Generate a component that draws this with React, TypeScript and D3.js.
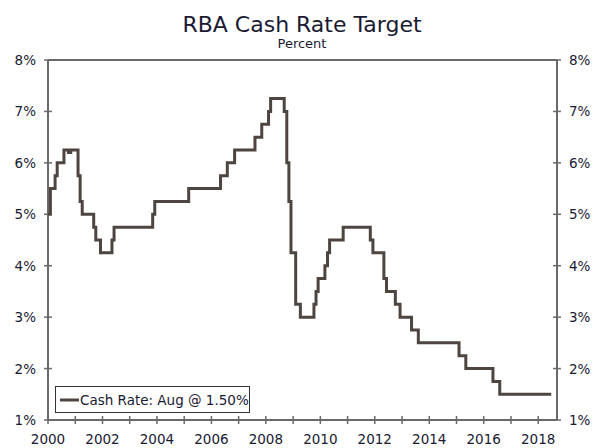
import React from "react";
import * as d3 from "d3";

// Cash rate changes: [date, rate %]
const changeDates: string[] = [
  "2000-01-01", "2000-02-02", "2000-04-05", "2000-05-03", "2000-08-02", "2000-10-01", "2000-11-01",
  "2001-02-07", "2001-03-07", "2001-04-04", "2001-09-05", "2001-10-03", "2001-12-05",
  "2002-05-08", "2002-06-05", "2003-11-05", "2003-12-03", "2005-03-02",
  "2006-05-03", "2006-08-02", "2006-11-08", "2007-08-08", "2007-11-07",
  "2008-02-06", "2008-03-05", "2008-09-03", "2008-10-08", "2008-11-05", "2008-12-03",
  "2009-02-04", "2009-04-08", "2009-10-07", "2009-11-04", "2009-12-02",
  "2010-03-03", "2010-04-07", "2010-05-05", "2010-11-03",
  "2011-11-02", "2011-12-07", "2012-05-02", "2012-06-06", "2012-10-03", "2012-12-05",
  "2013-05-08", "2013-08-07", "2015-02-04", "2015-05-06", "2016-05-04", "2016-08-03",
  "2018-06-25",
];
const rateValues: number[] = [
  5.0, 5.5, 5.75, 6.0, 6.25, 6.2, 6.25,
  5.75, 5.25, 5.0, 4.75, 4.5, 4.25,
  4.5, 4.75, 5.0, 5.25, 5.5,
  5.75, 6.0, 6.25, 6.5, 6.75,
  7.0, 7.25, 7.0, 6.0, 5.25, 4.25,
  3.25, 3.0, 3.25, 3.5, 3.75,
  4.0, 4.25, 4.5, 4.75,
  4.5, 4.25, 3.75, 3.5, 3.25, 3.0,
  2.75, 2.5, 2.25, 2.0, 1.75, 1.5,
  1.5,
];
const yTicks: number[] = [1, 2, 3, 4, 5, 6, 7, 8];
const xTickYears: number[] = d3.range(2000, 2019);
const xLabelYears: number[] = [2000, 2002, 2004, 2006, 2008, 2010, 2012, 2014, 2016, 2018];
const title = "RBA Cash Rate Target";
const subtitle = "Percent";
const legendLabel = "Cash Rate: Aug @ 1.50%";

const W = 600, H = 448;
const left = 48, right = 557, top = 60, bottom = 420;
const textColor = "#1a1a33";
const axisColor = "#6a6a6a";
const lineColor = "#4e4540";
const font = "DejaVu Sans, Verdana, sans-serif";

export default function App() {
  const x = d3.scaleTime()
    .domain([new Date(2000, 0, 1), new Date(2018, 8, 10)])
    .range([left, right]);
  const y = d3.scaleLinear().domain([1, 8]).range([bottom, top]);
  const data = changeDates.map((d, i) => ({ date: d3.timeParse("%Y-%m-%d")(d) as Date, v: rateValues[i] }));
  const line = d3.line<{ date: Date; v: number }>()
    .x((d) => x(d.date))
    .y((d) => y(d.v))
    .curve(d3.curveStepAfter);

  return (
    <svg width={W} height={H} style={{ position: "absolute", left: 0, top: 0 }} fontFamily={font}>
      <rect width={W} height={H} fill="#fff" />
      <text x={302} y={32} textAnchor="middle" fontSize={22} fill={textColor}>{title}</text>
      <text x={302} y={48} textAnchor="middle" fontSize={13} fill={textColor}>{subtitle}</text>

      {/* frame */}
      <line x1={left} x2={right} y1={top} y2={top} stroke={axisColor} strokeWidth={2} />
      <line x1={left} x2={left} y1={top} y2={bottom} stroke={axisColor} strokeWidth={2} />
      <line x1={right} x2={right} y1={top} y2={bottom} stroke={axisColor} strokeWidth={2} />
      <line x1={left} x2={right} y1={bottom} y2={bottom} stroke={axisColor} strokeWidth={2} />

      {yTicks.map((t) => (
        <g key={t}>
          <line x1={left - 4} x2={left + 4} y1={y(t)} y2={y(t)} stroke={axisColor} strokeWidth={1.5} />
          <line x1={right - 4} x2={right + 4} y1={y(t)} y2={y(t)} stroke={axisColor} strokeWidth={1.5} />
          <text x={36} y={y(t) + 5} textAnchor="end" fontSize={13.5} fill={textColor}>{t}%</text>
          <text x={569} y={y(t) + 5} textAnchor="start" fontSize={13.5} fill={textColor}>{t}%</text>
        </g>
      ))}

      {xTickYears.map((yr) => (
        <line key={yr} x1={x(new Date(yr, 0, 1))} x2={x(new Date(yr, 0, 1))} y1={bottom - 4} y2={bottom + 4}
          stroke={axisColor} strokeWidth={1.5} />
      ))}
      {xLabelYears.map((yr) => (
        <text key={yr} x={x(new Date(yr, 0, 1))} y={444} textAnchor="middle" fontSize={13.5} fill={textColor}>{yr}</text>
      ))}

      <path d={line(data) || ""} fill="none" stroke={lineColor} strokeWidth={3} strokeLinejoin="miter" />

      {/* legend */}
      <rect x={55.5} y={386.5} width={194} height={26} fill="#fff" stroke="#333" strokeWidth={1} />
      <line x1={60} x2={79} y1={400} y2={400} stroke={lineColor} strokeWidth={3} />
      <text x={80} y={405} fontSize={13.5} fill={textColor}>{legendLabel}</text>
    </svg>
  );
}
